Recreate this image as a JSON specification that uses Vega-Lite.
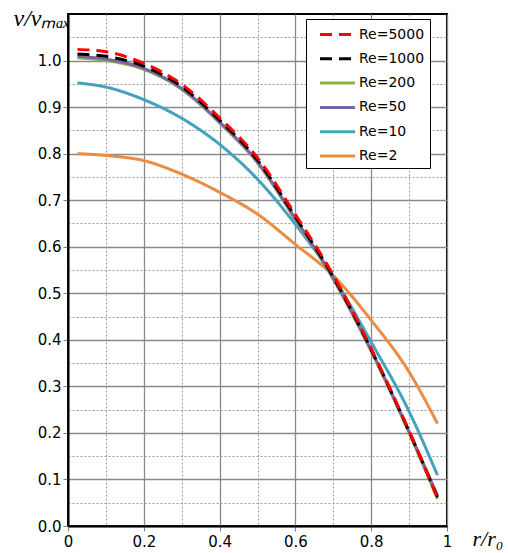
{
  "$schema": "https://vega.github.io/schema/vega-lite/v6.json",
  "width": 379,
  "height": 512,
  "autosize": {"type": "none"},
  "padding": {"left": 68, "top": 14, "right": 61, "bottom": 27},
  "background": "white",
  "config": {
    "font": "DejaVu Sans",
    "view": {"stroke": "#000", "strokeWidth": 2},
    "legend": {
      "orient": "none",
      "legendX": 238,
      "legendY": 5,
      "strokeColor": "#000",
      "fillColor": "#fff",
      "padding": 5,
      "symbolType": "M-2,0L2,0",
      "symbolSize": 306,
      "symbolOffset": 16,
      "labelOffset": 11,
      "symbolStrokeWidth": 3,
      "labelFontSize": 14,
      "labelColor": "#000",
      "labelFont": "DejaVu Sans",
      "rowPadding": 6.3
    }
  },
  "data": {
    "values": [
      {"r": 0.025, "v": 0.800, "series": "Re=2"},
      {"r": 0.1, "v": 0.796, "series": "Re=2"},
      {"r": 0.2, "v": 0.785, "series": "Re=2"},
      {"r": 0.3, "v": 0.756, "series": "Re=2"},
      {"r": 0.4, "v": 0.717, "series": "Re=2"},
      {"r": 0.5, "v": 0.670, "series": "Re=2"},
      {"r": 0.6, "v": 0.605, "series": "Re=2"},
      {"r": 0.7, "v": 0.538, "series": "Re=2"},
      {"r": 0.8, "v": 0.442, "series": "Re=2"},
      {"r": 0.9, "v": 0.331, "series": "Re=2"},
      {"r": 0.975, "v": 0.220, "series": "Re=2"},
      {"r": 0.025, "v": 0.952, "series": "Re=10"},
      {"r": 0.1, "v": 0.943, "series": "Re=10"},
      {"r": 0.2, "v": 0.916, "series": "Re=10"},
      {"r": 0.3, "v": 0.876, "series": "Re=10"},
      {"r": 0.4, "v": 0.820, "series": "Re=10"},
      {"r": 0.5, "v": 0.745, "series": "Re=10"},
      {"r": 0.6, "v": 0.648, "series": "Re=10"},
      {"r": 0.7, "v": 0.535, "series": "Re=10"},
      {"r": 0.8, "v": 0.395, "series": "Re=10"},
      {"r": 0.9, "v": 0.246, "series": "Re=10"},
      {"r": 0.975, "v": 0.109, "series": "Re=10"},
      {"r": 0.025, "v": 1.006, "series": "Re=200"},
      {"r": 0.1, "v": 1.000, "series": "Re=200"},
      {"r": 0.2, "v": 0.981, "series": "Re=200"},
      {"r": 0.3, "v": 0.938, "series": "Re=200"},
      {"r": 0.4, "v": 0.866, "series": "Re=200"},
      {"r": 0.5, "v": 0.780, "series": "Re=200"},
      {"r": 0.6, "v": 0.658, "series": "Re=200"},
      {"r": 0.7, "v": 0.530, "series": "Re=200"},
      {"r": 0.8, "v": 0.375, "series": "Re=200"},
      {"r": 0.9, "v": 0.200, "series": "Re=200"},
      {"r": 0.975, "v": 0.058, "series": "Re=200"},
      {"r": 0.025, "v": 1.009, "series": "Re=50"},
      {"r": 0.1, "v": 1.003, "series": "Re=50"},
      {"r": 0.2, "v": 0.983, "series": "Re=50"},
      {"r": 0.3, "v": 0.940, "series": "Re=50"},
      {"r": 0.4, "v": 0.868, "series": "Re=50"},
      {"r": 0.5, "v": 0.782, "series": "Re=50"},
      {"r": 0.6, "v": 0.660, "series": "Re=50"},
      {"r": 0.7, "v": 0.532, "series": "Re=50"},
      {"r": 0.8, "v": 0.378, "series": "Re=50"},
      {"r": 0.9, "v": 0.203, "series": "Re=50"},
      {"r": 0.975, "v": 0.065, "series": "Re=50"},
      {"r": 0.025, "v": 1.014, "series": "Re=1000"},
      {"r": 0.1, "v": 1.009, "series": "Re=1000"},
      {"r": 0.2, "v": 0.988, "series": "Re=1000"},
      {"r": 0.3, "v": 0.944, "series": "Re=1000"},
      {"r": 0.4, "v": 0.872, "series": "Re=1000"},
      {"r": 0.5, "v": 0.786, "series": "Re=1000"},
      {"r": 0.6, "v": 0.664, "series": "Re=1000"},
      {"r": 0.7, "v": 0.535, "series": "Re=1000"},
      {"r": 0.8, "v": 0.379, "series": "Re=1000"},
      {"r": 0.9, "v": 0.203, "series": "Re=1000"},
      {"r": 0.975, "v": 0.062, "series": "Re=1000"},
      {"r": 0.025, "v": 1.024, "series": "Re=5000"},
      {"r": 0.1, "v": 1.019, "series": "Re=5000"},
      {"r": 0.2, "v": 0.994, "series": "Re=5000"},
      {"r": 0.3, "v": 0.949, "series": "Re=5000"},
      {"r": 0.4, "v": 0.877, "series": "Re=5000"},
      {"r": 0.5, "v": 0.791, "series": "Re=5000"},
      {"r": 0.6, "v": 0.669, "series": "Re=5000"},
      {"r": 0.7, "v": 0.539, "series": "Re=5000"},
      {"r": 0.8, "v": 0.381, "series": "Re=5000"},
      {"r": 0.9, "v": 0.204, "series": "Re=5000"},
      {"r": 0.975, "v": 0.060, "series": "Re=5000"}
    ]
  },
  "mark": {"type": "line", "strokeWidth": 3, "interpolate": "monotone"},
  "encoding": {
    "x": {
      "field": "r",
      "type": "quantitative",
      "scale": {"domain": [0, 1], "nice": false, "zero": false},
      "axis": {
        "values": [0, 0.1, 0.2, 0.3, 0.4, 0.5, 0.6, 0.7, 0.8, 0.9, 1],
        "labelExpr": "round(datum.value*10)%2==0 ? format(datum.value,'~g') : ''",
        "labelFontSize": 15,
        "labelColor": "#000",
        "labelPadding": 3,
        "labelFlush": false,
        "tickSize": 5,
        "tickColor": "#808080",
        "tickOpacity": {"condition": {"test": "round(datum.value*10)%2==1", "value": 0}, "value": 1},
        "domainColor": "#000",
        "domainWidth": 2,
        "grid": true,
        "gridDash": {"condition": {"test": "round(datum.value*10)%2==1", "value": [2, 2]}, "value": []},
        "gridColor": {"condition": {"test": "round(datum.value*10)%2==1", "value": "#9a9a9a"}, "value": "#8a8a8a"},
        "gridWidth": {"condition": {"test": "round(datum.value*10)%2==1", "value": 1}, "value": 1.3},
        "gridOpacity": 1,
        "title": "r/r₀",
        "titleFont": "Liberation Serif",
        "titleFontStyle": "italic",
        "titleFontWeight": "normal",
        "titleFontSize": 22,
        "titleColor": "#000",
        "titleAlign": "left",
        "titleBaseline": "alphabetic",
        "titleX": 404,
        "titleY": 19
      }
    },
    "y": {
      "field": "v",
      "type": "quantitative",
      "scale": {"domain": [0, 1.1], "nice": false},
      "axis": {
        "values": [0, 0.05, 0.1, 0.15, 0.2, 0.25, 0.3, 0.35, 0.4, 0.45, 0.5, 0.55, 0.6, 0.65, 0.7, 0.75, 0.8, 0.85, 0.9, 0.95, 1.0, 1.05],
        "labelExpr": "round(datum.value*20)%2==0 ? format(datum.value,'.1f') : ''",
        "labelFontSize": 15,
        "labelColor": "#000",
        "labelPadding": 2,
        "labelFlush": false,
        "tickSize": 5,
        "tickColor": "#808080",
        "tickOpacity": {"condition": {"test": "round(datum.value*20)%2==1", "value": 0}, "value": 1},
        "domainColor": "#000",
        "domainWidth": 2,
        "grid": true,
        "gridDash": {"condition": {"test": "round(datum.value*20)%2==1", "value": [2, 2]}, "value": []},
        "gridColor": {"condition": {"test": "round(datum.value*20)%2==1", "value": "#9a9a9a"}, "value": "#8a8a8a"},
        "gridWidth": {"condition": {"test": "round(datum.value*20)%2==1", "value": 1}, "value": 1.3},
        "gridOpacity": 1,
        "title": "v/vₘₐₓ",
        "titleFont": "Liberation Serif",
        "titleFontStyle": "italic",
        "titleFontWeight": "normal",
        "titleFontSize": 24,
        "titleColor": "#000",
        "titleAngle": 0,
        "titleAlign": "left",
        "titleBaseline": "alphabetic",
        "titleX": -55,
        "titleY": 11
      }
    },
    "color": {
      "field": "series",
      "type": "nominal",
      "scale": {
        "domain": ["Re=5000", "Re=1000", "Re=200", "Re=50", "Re=10", "Re=2"],
        "range": ["#ff0000", "#000000", "#8fb04f", "#7a65a3", "#45a2bc", "#eb8c42"]
      },
      "legend": {"title": null}
    },
    "strokeDash": {
      "field": "series",
      "type": "nominal",
      "scale": {
        "domain": ["Re=5000", "Re=1000", "Re=200", "Re=50", "Re=10", "Re=2"],
        "range": [[12, 7], [12, 7], [1, 0], [1, 0], [1, 0], [1, 0]]
      },
      "legend": {"title": null}
    }
  }
}
